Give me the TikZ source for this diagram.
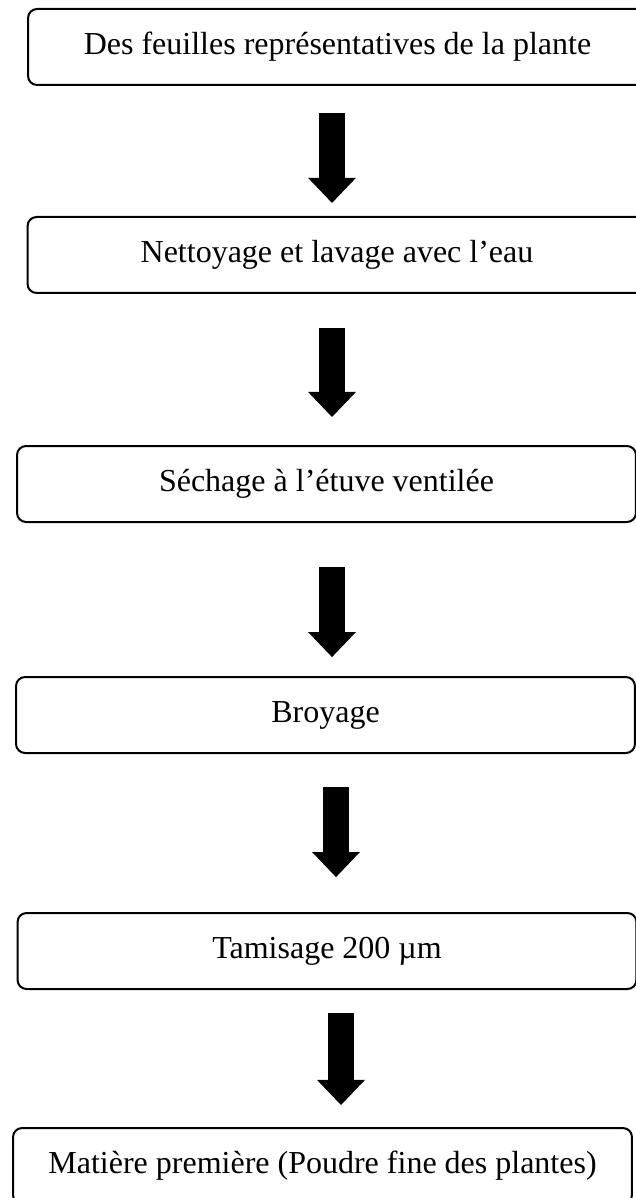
\documentclass[tikz,border=0pt]{standalone}
\usepackage{fontspec}
\setmainfont{Liberation Serif}
\usepackage{tikz}
\usetikzlibrary{arrows.meta}
\tikzset{
  sbox/.style={draw=black,line width=0.75pt,rounded corners=3.4pt,fill=white,
    minimum width=232.1pt,minimum height=28.5pt,inner sep=0pt,
    font=\fontsize{12}{14}\selectfont},
  barr/.style={-{Triangle[length=9.4pt,width=18pt,line width=0pt]},line width=9.4pt,draw=black}
}
\begin{document}
\begin{tikzpicture}[x=0.375pt,y=-0.375pt]
  \useasboundingbox (0,0) rectangle (635,1198);
  \node[sbox] (feuil) at (337.5,47) {Des feuilles représentatives de la plante};
  \node[sbox] (lav) at (337,255) {Nettoyage et lavage avec l’eau};
  \node[sbox] (sech) at (326.5,484) {Séchage à l’étuve ventilée};
  \node[sbox] (broy) at (325.5,715) {Broyage};
  \node[sbox] (tam) at (327,951) {Tamisage 200 µm};
  \node[sbox] (mat) at (322.5,1166) {Matière première (Poudre fine des plantes)};
  % fleches pleines entre les etapes
  \draw[barr,shorten <=10.1pt,shorten >=4.9pt] (feuil.south -| 332,0) -- (lav.north -| 332,0);
  \draw[barr,shorten <=12.75pt,shorten >=10.5pt] (lav.south -| 332,0) -- (sech.north -| 332,0);
  \draw[barr,shorten <=16.5pt,shorten >=7.1pt] (sech.south -| 332,0) -- (broy.north -| 332,0);
  \draw[barr,shorten <=12.4pt,shorten >=13.1pt] (broy.south -| 336,0) -- (tam.north -| 336,0);
  \draw[barr,shorten <=8.6pt,shorten >=8.25pt] (tam.south -| 341,0) -- (mat.north -| 341,0);
\end{tikzpicture}
\end{document}
